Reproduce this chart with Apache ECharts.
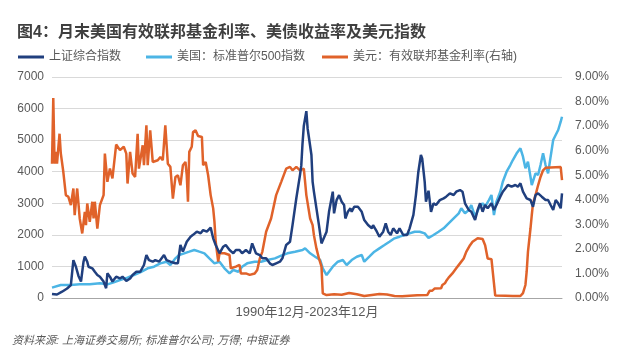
<!DOCTYPE html>
<html><head><meta charset="utf-8">
<script src="https://cdn.jsdelivr.net/npm/echarts@6/dist/echarts.min.js"></script>
<style>html,body{margin:0;padding:0;background:#fff}#c{width:640px;height:363px}</style>
</head><body><div id="c"></div>
<script>
const titleText = '图4：月末美国有效联邦基金利率、美债收益率及美元指数';
const seriesNames = ['上证综合指数', '美国：标准普尔500指数', '美元：有效联邦基金利率(右轴)'];
const xAxisName = '1990年12月-2023年12月';
const sourceText = '资料来源: 上海证券交易所; 标准普尔公司; 万得; 中银证券';
const leftTicks = {min: 0, max: 7000, interval: 1000};
const rightTicks = {min: 0, max: 9, interval: 1};

const shanghai = [['1990-12',127],['1991-04',110],['1991-08',200],['1991-12',300],['1992-03',410],['1992-05',1200],['1992-07',990],['1992-09',700],['1992-11',520],['1993-01',1150],['1993-02',1310],['1993-04',1150],['1993-05',990],['1993-08',940],['1993-10',830],['1993-12',730],['1994-02',675],['1994-05',520],['1994-07',310],['1994-08',780],['1994-10',675],['1994-12',520],['1995-03',675],['1995-06',620],['1995-08',675],['1995-11',540],['1996-02',620],['1996-04',730],['1996-07',830],['1996-10',830],['1997-01',1045],['1997-03',1360],['1997-05',1200],['1997-08',1150],['1997-10',1200],['1998-01',1150],['1998-05',1360],['1998-07',1200],['1998-10',1150],['1999-02',1100],['1999-04',1100],['1999-06',1680],['1999-08',1470],['1999-11',1780],['2000-02',1940],['2000-04',2000],['2000-07',2100],['2000-10',2050],['2000-12',2150],['2001-03',2100],['2001-06',2230],['2001-08',1890],['2001-10',1680],['2002-01',1415],['2002-04',1625],['2002-06',1680],['2002-09',1520],['2002-12',1415],['2003-02',1520],['2003-05',1520],['2003-07',1415],['2003-10',1520],['2004-01',1415],['2004-03',1730],['2004-06',1415],['2004-09',1360],['2004-11',1256],['2005-02',1256],['2005-05',1098],['2005-07',1045],['2005-10',1098],['2006-01',1150],['2006-03',1256],['2006-06',1680],['2006-09',1780],['2006-11',2310],['2007-02',3160],['2007-05',3900],['2007-06',4200],['2007-07',4900],['2007-08',5450],['2007-10',5920],['2007-11',5370],['2007-12',5100],['2008-02',4530],['2008-03',3680],['2008-04',3370],['2008-06',2840],['2008-08',2310],['2008-10',1730],['2008-11',1780],['2009-02',2100],['2009-04',2730],['2009-07',3370],['2009-08',2680],['2009-10',3100],['2009-12',3260],['2010-02',3050],['2010-04',2945],['2010-05',2520],['2010-07',2730],['2010-09',2840],['2010-10',2730],['2010-12',2890],['2011-03',2890],['2011-06',2730],['2011-08',2470],['2011-11',2310],['2012-02',2207],['2012-03',2310],['2012-06',2100],['2012-08',1940],['2012-11',2100],['2013-01',2365],['2013-03',2100],['2013-05',1995],['2013-07',2207],['2013-10',2048],['2013-12',2207],['2014-03',1995],['2014-06',1995],['2014-08',2207],['2014-11',2630],['2015-01',3260],['2015-03',4000],['2015-05',4530],['2015-06',4420],['2015-08',3680],['2015-09',3050],['2015-11',3400],['2016-01',2730],['2016-03',3000],['2016-05',2945],['2016-08',3100],['2016-11',3157],['2017-01',3209],['2017-04',3314],['2017-07',3262],['2017-09',3367],['2017-12',3420],['2018-02',3367],['2018-04',3000],['2018-07',2787],['2018-09',2733],['2018-12',2470],['2019-02',2787],['2019-04',3000],['2019-06',2733],['2019-08',2945],['2019-10',2841],['2020-01',3000],['2020-03',2787],['2020-05',2945],['2020-08',3209],['2020-10',3367],['2020-12',3472],['2021-02',3579],['2021-05',3525],['2021-08',3579],['2021-10',3525],['2021-12',3632],['2022-02',3367],['2022-05',3157],['2022-08',3104],['2022-10',2891],['2022-12',3262],['2023-02',3314],['2023-05',3209],['2023-08',3104],['2023-10',3104],['2023-12',2945],['2024-02',2787],['2024-04',3104],['2024-06',2998],['2024-08',2841],['2024-09',3314]];

const sp500 = [['1990-12',327],['1991-07',412],['1992-03',412],['1992-10',433],['1993-06',433],['1994-02',465],['1994-08',433],['1995-01',496],['1995-06',570],['1995-12',644],['1996-05',728],['1996-10',813],['1997-04',940],['1997-09',991],['1998-02',1098],['1998-07',1150],['1998-10',1045],['1999-02',1256],['1999-05',1362],['1999-09',1415],['2000-01',1467],['2000-05',1520],['2000-09',1467],['2001-01',1415],['2001-05',1256],['2001-09',1098],['2002-01',1150],['2002-05',940],['2002-09',782],['2002-12',886],['2003-04',833],['2003-07',991],['2003-11',1098],['2004-05',1150],['2004-10',1150],['2005-03',1203],['2005-09',1256],['2006-02',1340],['2006-07',1415],['2007-01',1467],['2007-07',1520],['2007-09',1573],['2008-01',1415],['2008-05',1308],['2008-09',1203],['2008-11',940],['2009-02',728],['2009-04',833],['2009-07',991],['2009-11',1150],['2010-03',1203],['2010-06',1045],['2010-10',1203],['2011-02',1308],['2011-06',1362],['2011-08',1150],['2011-12',1308],['2012-04',1467],['2012-08',1573],['2012-12',1678],['2013-04',1783],['2013-08',1890],['2013-12',1942],['2014-04',1995],['2014-08',2048],['2014-12',2100],['2015-04',2100],['2015-08',2048],['2015-11',1900],['2016-03',1995],['2016-07',2100],['2016-11',2207],['2017-03',2365],['2017-07',2524],['2017-11',2682],['2018-01',2841],['2018-04',2682],['2018-07',2787],['2018-09',2945],['2018-12',2576],['2019-03',2841],['2019-06',2998],['2019-08',2891],['2019-11',3104],['2020-01',3262],['2020-03',2629],['2020-05',3050],['2020-08',3367],['2020-10',3683],['2021-01',4000],['2021-04',4212],['2021-06',4370],['2021-09',4582],['2021-12',4741],['2022-02',4476],['2022-04',4108],['2022-06',4318],['2022-08',3842],['2022-09',3579],['2022-12',3949],['2023-02',3895],['2023-04',4212],['2023-06',4582],['2023-08',4212],['2023-10',3949],['2023-12',4476],['2024-02',5004],['2024-04',5162],['2024-06',5321],['2024-08',5584],['2024-09',5742]];

const fedFunds = [['1990-12',5.47],['1991-01',8.14],['1991-02',5.47],['1991-03',5.95],['1991-04',5.47],['1991-06',6.69],['1991-07',5.9],['1991-09',5.13],['1991-11',4.19],['1992-01',4.12],['1992-03',3.78],['1992-05',4.46],['1992-06',3.37],['1992-08',4.46],['1992-10',3.24],['1992-12',2.63],['1993-02',3.51],['1993-03',2.97],['1993-04',3.85],['1993-06',3.1],['1993-08',3.92],['1993-09',3.24],['1993-10',3.92],['1993-12',2.83],['1994-02',3.78],['1994-05',4.19],['1994-06',5.88],['1994-08',4.73],['1994-10',5.27],['1994-12',4.87],['1995-03',6.25],['1995-06',6.02],['1995-09',6.16],['1995-11',5.88],['1995-12',4.66],['1996-02',5.95],['1996-04',5.07],['1996-06',4.93],['1996-08',6.69],['1996-09',5.27],['1996-12',6.22],['1997-01',5.41],['1997-03',7.03],['1997-04',5.41],['1997-06',6.83],['1997-08',5.54],['1997-12',5.61],['1998-02',5.74],['1998-04',5.61],['1998-06',7.03],['1998-08',5.47],['1998-10',5.34],['1998-12',4.05],['1999-02',4.93],['1999-04',5.0],['1999-06',4.59],['1999-08',5.41],['1999-10',5.54],['1999-11',5.0],['1999-12',3.92],['2000-01',5.95],['2000-03',6.16],['2000-04',6.76],['2000-06',6.83],['2000-08',6.6],['2000-11',6.56],['2000-12',5.41],['2001-02',5.54],['2001-04',5.0],['2001-06',4.19],['2001-08',3.65],['2001-09',3.1],['2001-10',2.29],['2001-12',1.48],['2002-01',1.82],['2002-05',1.82],['2002-09',1.75],['2002-10',1.21],['2003-02',1.28],['2003-05',1.35],['2003-06',1.0],['2003-10',1.0],['2004-01',0.94],['2004-05',1.0],['2004-07',1.14],['2004-09',1.61],['2004-11',1.88],['2005-02',2.7],['2005-06',3.24],['2005-10',4.19],['2006-02',4.73],['2006-06',5.27],['2006-09',5.34],['2006-11',5.2],['2007-02',5.34],['2007-05',5.2],['2007-08',5.27],['2007-09',4.73],['2007-10',4.19],['2008-01',3.24],['2008-03',2.97],['2008-04',2.56],['2008-06',2.02],['2008-08',1.61],['2008-10',1.28],['2008-11',0.19],['2009-02',0.12],['2009-08',0.15],['2010-02',0.13],['2010-08',0.2],['2011-02',0.15],['2011-08',0.08],['2012-02',0.12],['2012-08',0.16],['2013-02',0.14],['2013-08',0.08],['2014-02',0.07],['2014-08',0.09],['2015-02',0.11],['2015-10',0.12],['2015-12',0.3],['2016-02',0.3],['2016-04',0.39],['2016-09',0.4],['2016-10',0.53],['2016-12',0.6],['2017-01',0.69],['2017-03',0.83],['2017-06',1.0],['2017-09',1.21],['2017-12',1.41],['2018-03',1.61],['2018-05',1.88],['2018-08',2.15],['2018-10',2.29],['2019-02',2.43],['2019-06',2.4],['2019-08',2.15],['2019-10',1.61],['2020-01',1.58],['2020-02',1.58],['2020-04',0.1],['2020-12',0.09],['2021-06',0.08],['2021-12',0.08],['2022-02',0.2],['2022-04',0.53],['2022-05',1.07],['2022-06',1.88],['2022-08',2.83],['2022-09',3.37],['2022-10',3.85],['2022-12',4.19],['2023-02',4.59],['2023-04',4.93],['2023-06',5.2],['2023-08',5.3],['2024-08',5.33],['2024-09',4.8]];

const FONT = "'Liberation Sans', 'Noto Sans CJK SC', sans-serif";
const colors = ['#203f7e', '#4cb5e5', '#e0622a'];
const chart = echarts.init(document.getElementById('c'), null, {renderer: 'canvas'});
const legendBase = {
  top: 46, icon: 'rect', itemWidth: 26, itemHeight: 3, itemGap: 10,
  textStyle: {fontSize: 12, color: '#595959', fontFamily: FONT}
};
chart.setOption({
  animation: false,
  backgroundColor: '#fff',
  title: {
    text: titleText, left: 12, top: 20,
    textStyle: {fontSize: 16, fontWeight: 'bold', color: '#3f3f3f', fontFamily: FONT}
  },
  legend: [
    Object.assign({left: 13, data: [seriesNames[0]]}, legendBase),
    Object.assign({left: 141, data: [seriesNames[1]]}, legendBase),
    Object.assign({left: 317, data: [seriesNames[2]]}, legendBase)
  ],
  grid: {left: 52, right: 78, top: 77, bottom: 65},
  xAxis: {
    type: 'time', min: '1990-12', max: '2024-09',
    name: xAxisName, nameLocation: 'middle', nameGap: 8,
    nameTextStyle: {fontSize: 13, color: '#595959', fontFamily: FONT},
    axisLine: {show: true, lineStyle: {color: '#a6a6a6', width: 1}},
    axisTick: {show: false}, axisLabel: {show: false}, splitLine: {show: false}
  },
  yAxis: [
    {
      type: 'value', min: leftTicks.min, max: leftTicks.max, interval: leftTicks.interval,
      axisLine: {show: false}, axisTick: {show: false},
      axisLabel: {fontSize: 12, color: '#595959', margin: 8, fontFamily: FONT,
        formatter: v => String(v)},
      splitLine: {lineStyle: {color: '#d9d9d9', width: 1}}
    },
    {
      type: 'value', min: rightTicks.min, max: rightTicks.max, interval: rightTicks.interval,
      axisLine: {show: false}, axisTick: {show: false},
      axisLabel: {fontSize: 12, color: '#595959', margin: 13, fontFamily: FONT,
        formatter: v => v.toFixed(2) + '%'},
      splitLine: {show: false}
    }
  ],
  series: [
    {name: seriesNames[1], type: 'line', yAxisIndex: 0, data: sp500, showSymbol: false,
      lineStyle: {color: colors[1], width: 2.5}, itemStyle: {color: colors[1]}, z: 2},
    {name: seriesNames[2], type: 'line', yAxisIndex: 1, data: fedFunds, showSymbol: false,
      lineStyle: {color: colors[2], width: 2.5}, itemStyle: {color: colors[2]}, z: 3},
    {name: seriesNames[0], type: 'line', yAxisIndex: 0, data: shanghai, showSymbol: false,
      lineStyle: {color: colors[0], width: 2.5}, itemStyle: {color: colors[0]}, z: 4}
  ],
  graphic: [{
    type: 'text', left: 12, top: 335,
    style: {text: sourceText, fill: '#595959', font: 'italic 11px ' + FONT}
  }]
});
</script></body></html>
